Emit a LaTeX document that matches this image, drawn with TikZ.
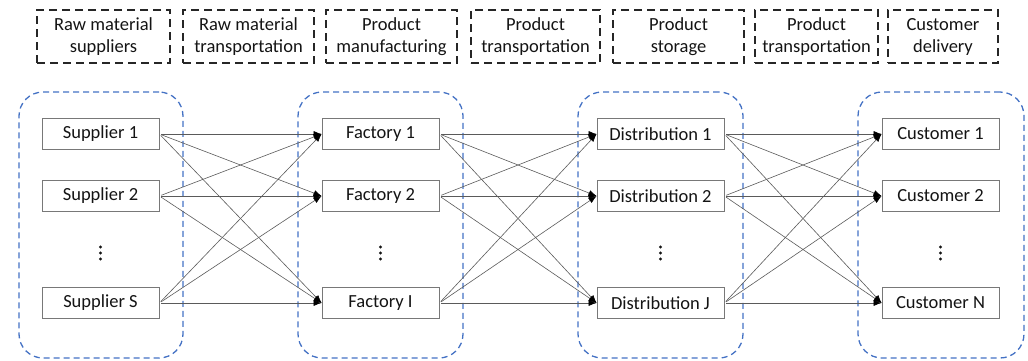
\documentclass[tikz,border=0pt]{standalone}
\usepackage{fontspec}
\setmainfont{Carlito}
\usetikzlibrary{arrows.meta}
\definecolor{grpblue}{RGB}{68,114,196}
\definecolor{boxedge}{RGB}{120,120,120}
\definecolor{linkgray}{RGB}{90,90,90}
\definecolor{txt}{RGB}{20,20,20}
\begin{document}
\begin{tikzpicture}[x=1pt,y=-1pt,
  stage/.style={draw=black!85, line width=1.4pt, dash pattern=on 8pt off 5pt,
    minimum height=53pt, inner sep=0pt, align=center, text=txt,
    font=\fontsize{18.5}{22}\selectfont},
  group/.style={draw=grpblue, line width=1.3pt, dash pattern=on 6pt off 4pt,
    rounded corners=24pt, minimum height=266pt, inner sep=0pt},
  entity/.style={draw=boxedge, line width=0.8pt, fill=white, minimum height=31pt,
    inner sep=0pt, text=txt, font=\fontsize{18.5}{22}\selectfont},
  link/.style={draw=linkgray, line width=0.6pt, shorten <=2pt,
    -{Latex[length=8pt,width=6pt,black]}}]
\useasboundingbox (0,0) rectangle (1028,360);

% stage headings
\node[stage, minimum width=133pt] (h1) at (103.5,36.5) {Raw material\\suppliers};
\node[stage, minimum width=131pt] (h2) at (248.5,36.5) {Raw material\\transportation};
\node[stage, minimum width=131pt] (h3) at (391.5,36.5) {Product\\manufacturing};
\node[stage, minimum width=129pt] (h4) at (535.5,36.5) {Product\\transportation};
\node[stage, minimum width=131pt] (h5) at (678.5,36.5) {Product\\storage};
\node[stage, minimum width=123pt] (h6) at (816.5,36.5) {Product\\transportation};
\node[stage, minimum width=110pt] (h7) at (943,36.5) {Customer\\delivery};

% echelon groups
\node[group, minimum width=164pt] (g1) at (101,225) {};
\node[group, minimum width=165pt] (g2) at (380.5,225) {};
\node[group, minimum width=165pt] (g3) at (660.5,225) {};
\node[group, minimum width=166pt] (g4) at (941,225) {};

% suppliers
\node[entity, minimum width=117pt] (s1) at (100.5,134) {Supplier 1};
\node[entity, minimum width=117pt] (s2) at (100.5,196) {Supplier 2};
\node[entity, minimum width=117pt] (sS) at (100.5,303) {Supplier S};

% factories
\node[entity, minimum width=117pt] (f1) at (380.5,134) {Factory 1};
\node[entity, minimum width=117pt] (f2) at (380.5,196) {Factory 2};
\node[entity, minimum width=117pt] (fI) at (380.5,303) {Factory I};

% distribution centres
\node[entity, minimum width=127pt] (d1) at (660.5,134) {Distribution 1};
\node[entity, minimum width=127pt] (d2) at (660.5,196) {Distribution 2};
\node[entity, minimum width=127pt] (dJ) at (660.5,303) {Distribution J};

% customers
\node[entity, minimum width=117pt] (c1) at (940.5,134) {Customer 1};
\node[entity, minimum width=117pt] (c2) at (940.5,196) {Customer 2};
\node[entity, minimum width=117pt] (cN) at (940.5,303) {Customer N};

% vertical ellipses between the second and last member of each echelon
\foreach \x/\n in {100.5/sd,380.5/fd,660.5/dd,940.5/cd}{
  \coordinate (\n) at (\x,253);
  \foreach \dy in {-6,0,6}{\fill[txt] ([yshift=\dy pt]\n) circle (1.6pt);}
}

% complete bipartite flows between consecutive echelons
\foreach \a in {s1,s2,sS}{\foreach \b in {f1,f2,fI}{\draw[link] (\a.east) -- (\b.west);}}
\foreach \a in {f1,f2,fI}{\foreach \b in {d1,d2,dJ}{\draw[link] (\a.east) -- (\b.west);}}
\foreach \a in {d1,d2,dJ}{\foreach \b in {c1,c2,cN}{\draw[link] (\a.east) -- (\b.west);}}
\end{tikzpicture}
\end{document}
